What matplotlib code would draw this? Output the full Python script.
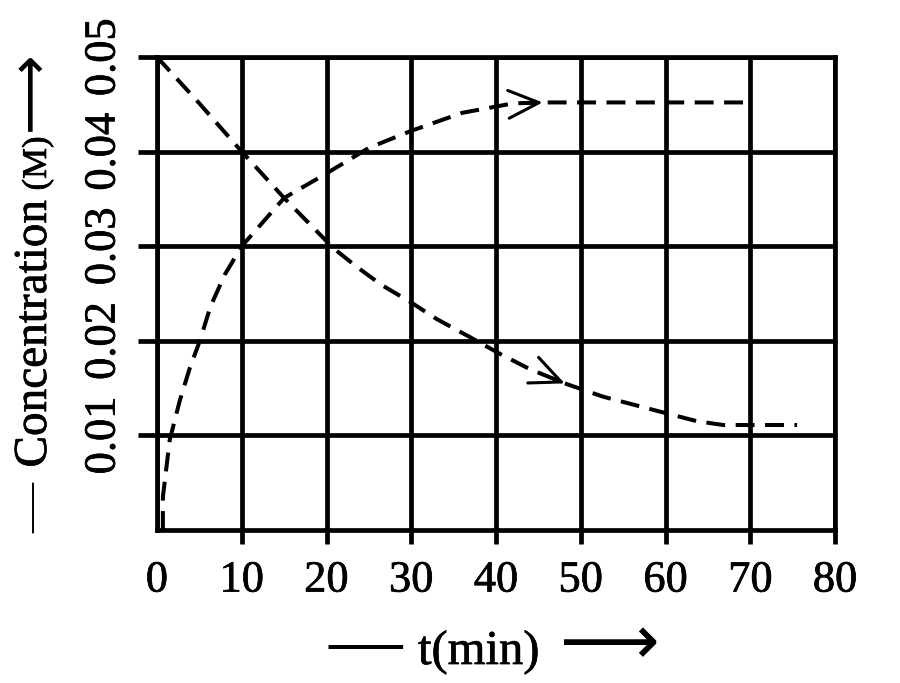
import matplotlib
matplotlib.use("Agg")
import matplotlib.pyplot as plt
import matplotlib.patheffects as pe

# reactant (falling) and product (rising) curves
t_reac = [0, 5, 10, 15, 20.8, 23.6, 26.5, 29.9, 33, 36.9, 40.5, 44, 48.1, 52.6, 59.4, 63.7, 66.8, 75.5]
c_reac = [0.0500, 0.0451, 0.0400, 0.0351, 0.0298, 0.0278, 0.0259, 0.0241, 0.0223, 0.0204,
          0.0186, 0.0170, 0.0155, 0.0141, 0.0125, 0.0115, 0.0111, 0.0111]

t_prod = [0.7, 0.7, 1.5, 2.7, 3.9, 5.1, 6.3, 8, 10, 15, 20, 25, 30, 36, 42, 45.5, 70]
c_prod = [0.0, 0.0035, 0.0095, 0.0137, 0.0172, 0.0201, 0.0236, 0.0270, 0.0300, 0.0351,
          0.0377, 0.0404, 0.0422, 0.0441, 0.0451, 0.0452, 0.0452]

# arrow heads: (tip, point a little before the tip)
arrows = [((48.1, 0.0155), (46.5, 0.0161)),
          ((45.5, 0.0452), (43.5, 0.0451))]

x_ticks = [0, 10, 20, 30, 40, 50, 60, 70, 80]
y_ticks = [0.01, 0.02, 0.03, 0.04, 0.05]

plt.rcParams['font.family'] = ['Liberation Serif', 'DejaVu Sans']
plt.rcParams['font.size'] = 32

heavy = [pe.withStroke(linewidth=0.5, foreground='black')]

fig = plt.figure(figsize=(9, 6.83), dpi=100)
ax = fig.add_axes([0.1744, 0.224, 0.7536, 0.6925])

ax.plot(t_reac, c_reac, color='black', lw=2.9, dashes=(4.7, 2.6))
ax.plot(t_prod, c_prod, color='black', lw=2.9, dashes=(4.7, 2.6))

for tip, tail in arrows:
    ax.annotate('', xy=tip, xytext=tail,
                arrowprops=dict(arrowstyle='->,head_length=1.1,head_width=0.5',
                                color='black', lw=2.2, shrinkA=0, shrinkB=0,
                                mutation_scale=20))

ax.set_xlim(0, 80)
ax.set_ylim(0, 0.05)
ax.set_xticks(x_ticks)
ax.set_xticklabels([str(v) for v in x_ticks])
ax.set_yticks(y_ticks)
ax.set_yticklabels([f"{v:.2f}" for v in y_ticks], rotation=90, va='center')
for lab in ax.get_xticklabels() + ax.get_yticklabels():
    lab.set_path_effects(heavy)

ax.grid(True, color='black', lw=3.4)
ax.set_axisbelow(True)
for s in ax.spines.values():
    s.set_linewidth(3.4)
ax.tick_params(axis='x', direction='out', length=10, width=3.4, pad=12)
ax.tick_params(axis='y', direction='out', length=14, width=3.4, pad=10)
ax.xaxis.get_major_ticks()[0].tick1line.set_visible(False)

# x axis label, in pieces: long dash, text, long arrow
xb = 0.0278
fig.text(0.4056, xb, "—", ha='center', va='baseline', fontsize=53)
fig.text(0.532, xb, "t(min)", ha='center', va='baseline', fontsize=35, path_effects=heavy)
fig.text(0.676, xb, "⟶", ha='center', va='baseline', fontsize=50, family='DejaVu Sans')

# y axis label, rotated, same idea
yb = 0.0511
kw = dict(rotation=90, rotation_mode='anchor', ha='center', va='baseline')
fig.text(yb, 0.2562, "—", fontsize=36, **kw)
fig.text(yb, 0.5117, "Concentration", fontsize=34, path_effects=heavy, **kw)
fig.text(yb, 0.7606, "(M)", fontsize=25, path_effects=heavy, **kw)
fig.text(yb, 0.866, "⟶", fontsize=40, family='DejaVu Sans', **kw)

fig.savefig("out.png", dpi=100)
